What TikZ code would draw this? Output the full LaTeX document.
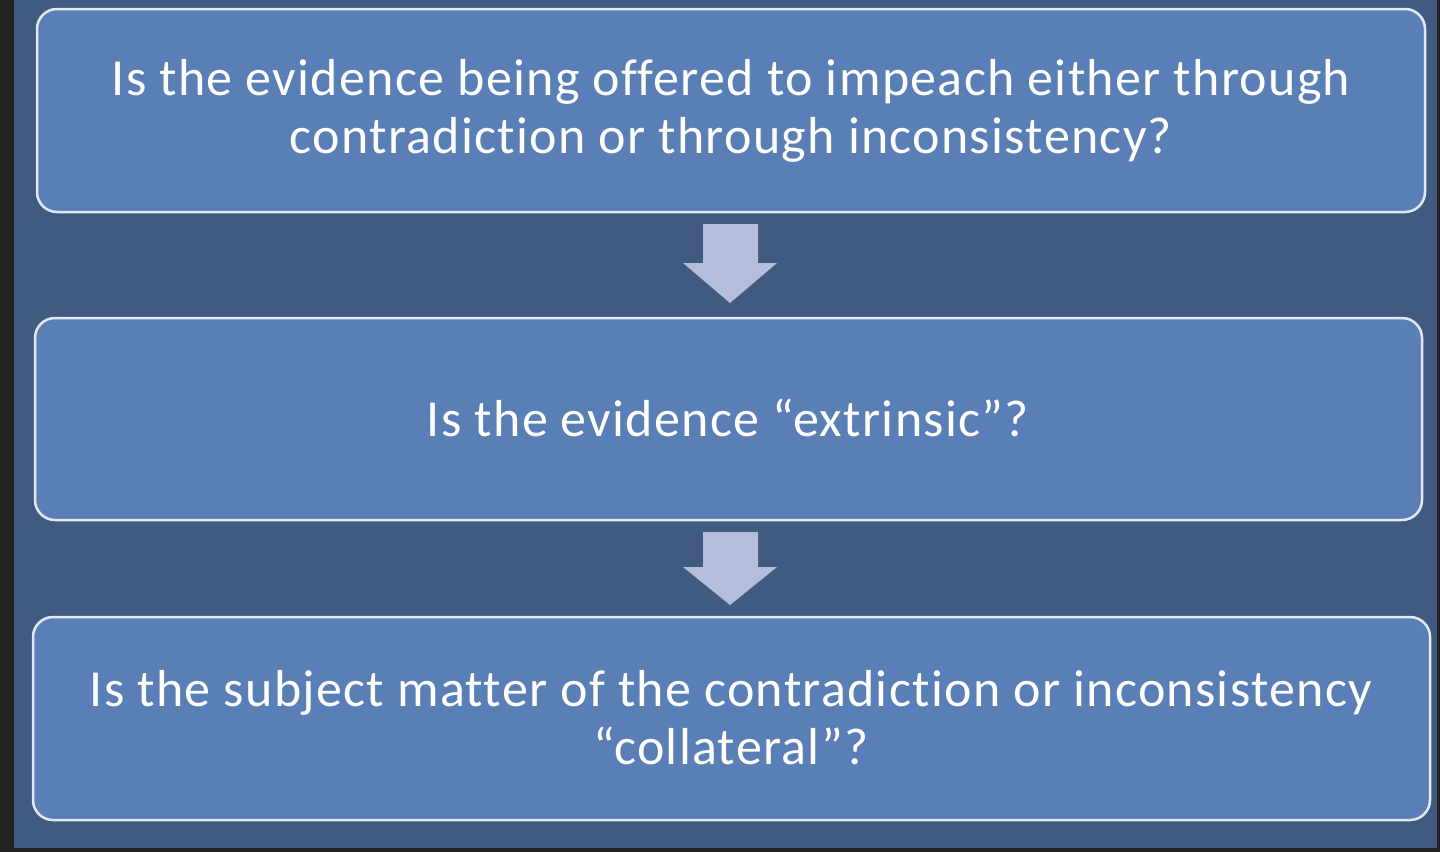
\documentclass[tikz,border=0pt]{standalone}
\usepackage{fontspec}
\setmainfont{Carlito}[Ligatures=NoCommon, LetterSpace=2.5]
\definecolor{bgdark}{HTML}{222222}
\definecolor{bgblue}{HTML}{405A80}
\definecolor{boxfill}{HTML}{5A7FB6}
\definecolor{boxline}{HTML}{E2E8F2}
\definecolor{arrowc}{HTML}{B4BEDA}
\tikzset{
  qbox/.style={draw=boxline, line width=2.5pt, fill=boxfill, rounded corners=20pt},
  qtext/.style={text=white, align=center, font=\fontsize{52}{58}\selectfont},
  darrow/.style={fill=arrowc, draw=none}
}
\begin{document}
\begin{tikzpicture}[x=1pt,y=-1pt]
\useasboundingbox (0,0) rectangle (1440,852);
\fill[bgdark] (0,0) rectangle (1440,852);
\fill[bgblue] (14,0) rectangle (1437,848);
% boxes
\draw[qbox] (37,9) rectangle (1425,212);
\draw[qbox] (35,318) rectangle (1422,520);
\draw[qbox] (33,617) rectangle (1430,820);
\node[qtext] (q1) at (731,111) {Is the evidence being offered to impeach either through\\contradiction or through inconsistency?};
\node[qtext] (q2) at (728,418) {Is the evidence “extrinsic”?};
\node[qtext] (q3) at (731,718) {Is the subject matter of the contradiction or inconsistency\\“collateral”?};
% arrows
\fill[darrow] (703,224) -- (758,224) -- (758,263) -- (777,263) -- (730,303) -- (683,263) -- (703,263) -- cycle;
\fill[darrow] (703,532) -- (758,532) -- (758,567) -- (777,567) -- (730,605) -- (683,567) -- (703,567) -- cycle;
\end{tikzpicture}
\end{document}
